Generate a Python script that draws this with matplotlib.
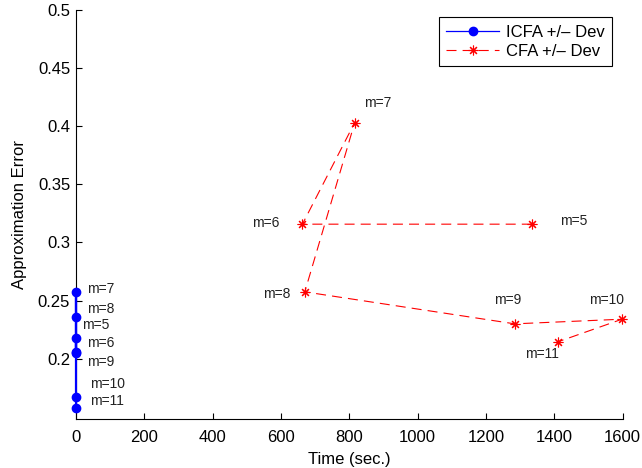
import matplotlib
matplotlib.use("Agg")
import matplotlib.pyplot as plt

plt.rcParams['font.family'] = ['Liberation Sans', 'DejaVu Sans']

# ICFA series (order m=5..11)
icfa_m = [5, 6, 7, 8, 9, 10, 11]
icfa_time = [1, 1, 1, 1, 1, 1, 1]
icfa_err = [0.2177, 0.2056, 0.2573, 0.2358, 0.2050, 0.1667, 0.1575]

# CFA series (order m=5..11)
cfa_m = [5, 6, 7, 8, 9, 10, 11]
cfa_time = [1334, 663, 816, 670, 1284, 1598, 1410]
cfa_err = [0.3157, 0.3157, 0.4031, 0.2575, 0.2300, 0.2340, 0.2145]

# label anchor positions (data units)
icfa_lab_x = [17, 32, 32, 32, 32, 41, 41]
icfa_lab_y = [0.2292, 0.2137, 0.2600, 0.2429, 0.1973, 0.1784, 0.1638]
cfa_lab_x = [1418, 515, 842, 547, 1225, 1500, 1313]
cfa_lab_y = [0.3188, 0.3169, 0.4200, 0.2558, 0.2506, 0.2506, 0.2042]

xticks = [0, 200, 400, 600, 800, 1000, 1200, 1400, 1600]
yticks = [0.2, 0.25, 0.3, 0.35, 0.4, 0.45, 0.5]

fig = plt.figure(figsize=(6.42, 4.68), dpi=100)
ax = fig.add_axes([0.118, 0.105, 0.852, 0.874])

ax.plot(icfa_time, icfa_err, '-', color='#0000ff', lw=1.6, marker='o',
        ms=6, mfc='#0000ff', mec='#0000ff', label='ICFA +/\u2013 Dev',
        zorder=3, clip_on=False)
ax.plot(cfa_time, cfa_err, '--', color='#ff0000', lw=0.8, marker=(8, 2, 0),
        ms=7, mec='#ff0000', mew=0.8, dashes=(9, 5.5), label='CFA +/\u2013 Dev',
        zorder=3, clip_on=False)

for m, x, y in zip(icfa_m, icfa_lab_x, icfa_lab_y):
    ax.text(x, y, f'm={m}', fontsize=10, ha='left', va='center', color='#222222')
for m, x, y in zip(cfa_m, cfa_lab_x, cfa_lab_y):
    ax.text(x, y, f'm={m}', fontsize=10, ha='left', va='center', color='#222222')

ax.set_xlim(0, 1600)
ax.set_ylim(0.1483, 0.5)
ax.set_xticks(xticks)
ax.set_yticks(yticks)
ax.set_xticklabels([str(t) for t in xticks])
ax.set_yticklabels(['0.2', '0.25', '0.3', '0.35', '0.4', '0.45', '0.5'])
ax.tick_params(direction='in', length=4, width=0.8, labelsize=12, pad=4)
ax.tick_params(axis='x', pad=8)
ax.spines['top'].set_visible(False)
ax.spines['right'].set_visible(False)
for s in ('left', 'bottom'):
    ax.spines[s].set_linewidth(0.8)

ax.set_xlabel('Time (sec.)', fontsize=12, labelpad=5)
ax.set_ylabel('Approximation Error', fontsize=12, labelpad=8)

leg = ax.legend(loc='upper right', bbox_to_anchor=(0.987, 0.99), fontsize=12,
                frameon=True, fancybox=False, edgecolor='black', framealpha=1,
                handlelength=3.2, borderpad=0.45, labelspacing=0.25, handletextpad=0.4,
                borderaxespad=0.2)
leg.get_frame().set_linewidth(0.8)
leg.get_lines()[0].set_linewidth(0.9)

fig.savefig('out.png', dpi=100)
